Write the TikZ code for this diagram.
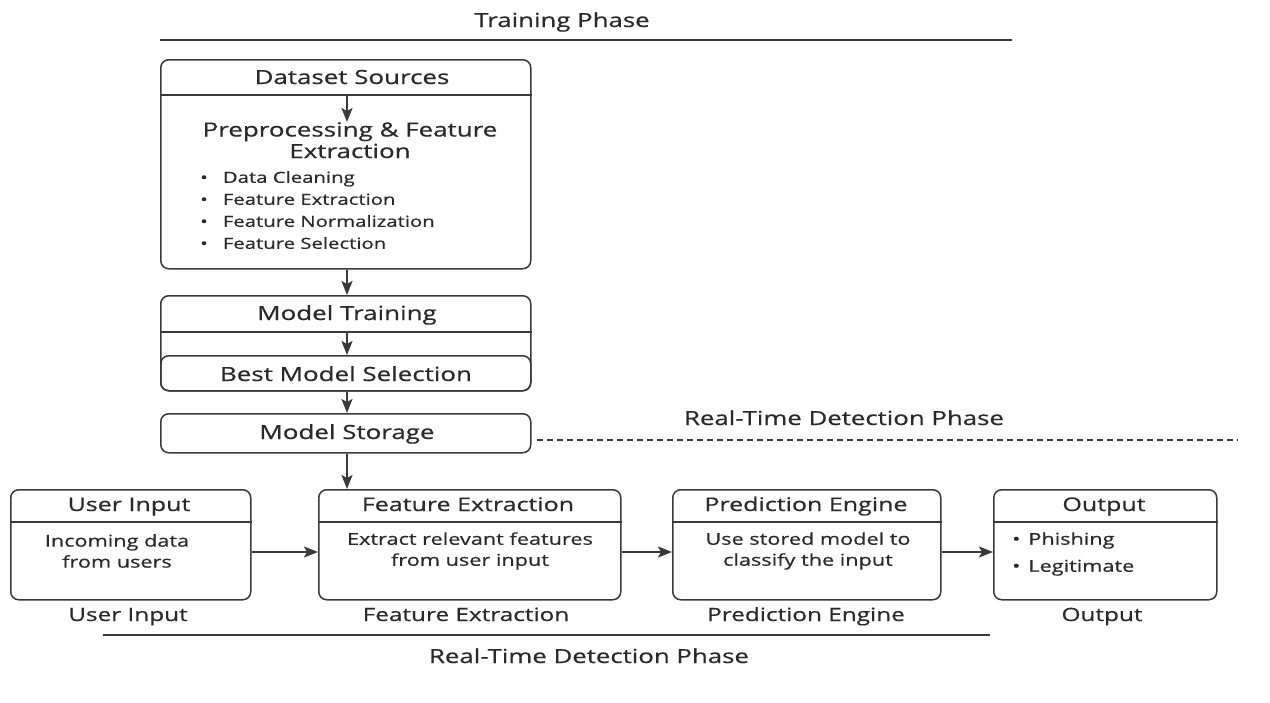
\documentclass[tikz,border=0pt]{standalone}
\usepackage{fontspec}
\setmainfont{Open Sans}[FakeStretch=1.33,FakeBold=0.6]
\usetikzlibrary{arrows.meta}
\definecolor{lc}{HTML}{3A3A3A}
\definecolor{tc}{HTML}{2A2A2A}
\tikzset{
  box/.style={draw=lc, line width=1.5pt, rounded corners=8pt, inner sep=0pt},
  arr/.style={-{Stealth[length=14pt,width=11pt,inset=3pt]}, line width=1.5pt, draw=lc},
  rule/.style={line width=1.4pt, draw=lc},
  one/.style={text height=16pt, text depth=2pt},
  big/.style={text=tc, inner sep=0pt, font=\fontsize{19.5}{21.5}\selectfont},
  ttl/.style={text=tc, inner sep=0pt, one, font=\fontsize{19.4}{22}\selectfont},
  mid/.style={text=tc, inner sep=0pt, one, font=\fontsize{18.8}{22}\selectfont},
  captxt/.style={text=tc, inner sep=0pt, one, font=\fontsize{18.3}{22}\selectfont},
  sml/.style={text=tc, inner sep=0pt, font=\fontsize{16.3}{21}\selectfont},
  lst/.style={text=tc, inner sep=0pt, font=\fontsize{15.3}{22}\selectfont},
}
\begin{document}
\begin{tikzpicture}[x=1pt,y=-1pt]
\useasboundingbox (0,0) rectangle (1270,702);
% Training phase title
\node[ttl] (tp) at (562,20) {Training Phase};
\coordinate (tpl) at (160,40);
\coordinate (tpr) at (1012,40);
\draw[rule] (tpl) -- (tpr);
% Box 1
\node[box, anchor=north west, minimum width=370pt, minimum height=209pt] (ds) at (160,59) {};
\draw[rule] (ds.west |- 0,95) -- (ds.east |- 0,95);
\node[big, one] (dst) at (352,77) {Dataset Sources};
\coordinate (a1s) at (347,96);
\node[big, align=center, anchor=north] (pre) at (350,122) {Preprocessing \& Feature\\Extraction};
\draw[arr] (a1s) -- (pre.north -| a1s);
\node[lst, anchor=north west, align=left] (bul) at (200,171) {\textbullet\hspace{15pt}Data Cleaning\\\textbullet\hspace{15pt}Feature Extraction\\\textbullet\hspace{15pt}Feature Normalization\\\textbullet\hspace{15pt}Feature Selection};
% Box 2
\node[box, anchor=north west, minimum width=370pt, minimum height=95pt] (mt) at (160,295) {};
\draw[rule] (mt.west |- 0,332) -- (mt.east |- 0,332);
\node[box, anchor=north west, minimum width=370pt, minimum height=35pt] (bm) at (160,355) {};
\node[big, one] (mtt) at (347,313) {Model Training};
\node[big, one] (bmt) at (346,374) {Best Model Selection};
\coordinate (a2s) at (347,332);
\draw[arr] (a2s) -- (bm.north -| a2s);
% Model storage
\node[box, anchor=north west, minimum width=370pt, minimum height=39pt] (ms) at (160,413) {};
\node[big, one] (mst) at (347,432) {Model Storage};
\draw[arr] (ds.south -| a1s) -- (mt.north -| a1s);
\draw[arr] (bm.south -| a1s) -- (ms.north -| a1s);
% Real-time dashed
\node[ttl] (rtp) at (844,418) {Real-Time Detection Phase};
\coordinate (dr) at (1237,440);
\draw[lc, line width=1.3pt, dash pattern=on 6pt off 4pt] (ms.east |- dr) ++(5,0) -- (dr);
% Bottom boxes
\node[box, anchor=north west, minimum width=240pt, minimum height=110pt] (ui) at (10,489) {};
\node[box, anchor=north west, minimum width=302pt, minimum height=110pt] (fe) at (318,489) {};
\node[box, anchor=north west, minimum width=268pt, minimum height=110pt] (pe) at (672,489) {};
\node[box, anchor=north west, minimum width=223pt, minimum height=110pt] (ou) at (993,489) {};
\foreach \b in {ui,fe,pe,ou} {\draw[rule] (\b.west |- 0,522) -- (\b.east |- 0,522);}
\node[mid] (uih) at (129,504) {User Input};
\node[mid] (feh) at (468,504) {Feature Extraction};
\node[mid] (peh) at (806,504) {Prediction Engine};
\node[mid] (ouh) at (1104,504) {Output};
\node[sml, align=center] (uib) at (117,551) {Incoming data\\from users};
\node[sml, align=center] (feb) at (470,551) {Extract relevant features\\from user input};
\node[sml, align=center] (peb) at (808,551) {Use stored model to\\classify the input};
\node[sml, anchor=west, align=left, font=\fontsize{16.3}{27}\selectfont] (oub) at (1012,554) {\textbullet\hspace{8pt}Phishing\\\textbullet\hspace{8pt}Legitimate};
\node[captxt] (uic) at (128,614) {User Input};
\node[captxt] (fec) at (466,614) {Feature Extraction};
\node[captxt] (pec) at (806,614) {Prediction Engine};
\node[captxt] (ouc) at (1102,614) {Output};
\coordinate (ay) at (0,552);
\draw[arr] (ui.east |- ay) -- (fe.west |- ay);
\draw[arr] (fe.east |- ay) -- (pe.west |- ay);
\draw[arr] (pe.east |- ay) -- (ou.west |- ay);
\draw[arr] (ms.south -| a1s) -- (fe.north -| a1s);
% bottom rule and title
\coordinate (bl) at (103,635);
\coordinate (br) at (990,635);
\draw[rule] (bl) -- (br);
\node[ttl] (rtb) at (589,656) {Real-Time Detection Phase};
\end{tikzpicture}
\end{document}
